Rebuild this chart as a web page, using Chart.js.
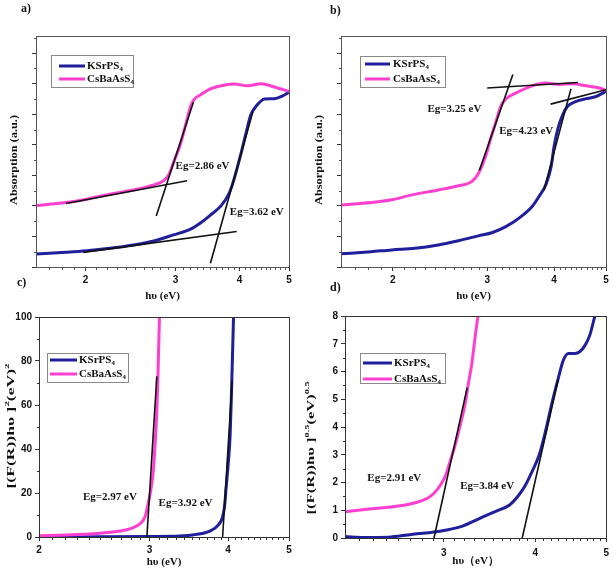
<!DOCTYPE html>
<html>
<head>
<meta charset="utf-8">
<script src="https://cdn.jsdelivr.net/npm/chart.js@4.4.1/dist/chart.umd.min.js"></script>
<style>
  body { margin: 0; background: #fff; }
  #wrap { position: relative; width: 614px; height: 571px; background: #fff; overflow: hidden; }
  #wrap canvas { position: absolute; }
  .tag { position: absolute; font: bold 12px "Liberation Serif", serif; color: #111; z-index: 5; }
</style>
</head>
<body>
<div id="wrap">
  <canvas id="chartA" width="305" height="305" style="left:0;top:0"></canvas>
  <canvas id="chartB" width="309" height="305" style="left:305px;top:0"></canvas>
  <canvas id="chartC" width="305" height="266" style="left:0;top:305px"></canvas>
  <canvas id="chartD" width="309" height="266" style="left:305px;top:305px"></canvas>
  <div class="tag" style="left:21px;top:1px">a)</div>
  <div class="tag" style="left:330px;top:3px">b)</div>
  <div class="tag" style="left:17px;top:275px">c)</div>
  <div class="tag" style="left:330px;top:280px">d)</div>
</div>
<script>
const SERIF = '"Liberation Serif", "Times New Roman", serif';
const SANS = '"Liberation Sans", Arial, sans-serif';
const BLUE = '#1f1f9c';
const PINK = '#ff3fd0';
const seriesNames = ['KSrPS₄', 'CsBaAsS₄'];

// a) absorption spectra
const aKsrEnergy = [1.59, 1.83, 2.01, 2.23, 2.48, 2.72, 2.97, 3.21, 3.36, 3.51, 3.68, 3.82, 3.90, 4.03, 4.12, 4.21, 4.31, 4.48, 4.68, 4.83, 5.0];
const aKsrAbs    = [0.42, 0.48, 0.53, 0.61, 0.72, 0.85, 1.05, 1.24, 1.45, 1.70, 2.00, 2.42, 2.85, 3.73, 4.38, 4.98, 5.26, 5.50, 5.51, 5.58, 5.72];
const aCsbEnergy = [1.59, 1.83, 2.01, 2.23, 2.48, 2.72, 2.84, 2.91, 2.97, 3.07, 3.14, 3.21, 3.26, 3.36, 3.51, 3.79, 3.90, 4.15, 4.41, 4.68, 5.0];
const aCsbAbs    = [2.01, 2.11, 2.22, 2.38, 2.52, 2.69, 2.82, 3.02, 3.40, 4.05, 4.66, 5.26, 5.48, 5.64, 5.83, 5.97, 5.99, 5.93, 6.00, 5.89, 5.75];
const aFits = [[1.83, 2.08, 3.16, 2.82], [2.75, 1.67, 3.25, 5.39], [1.98, 0.48, 3.95, 1.16], [3.51, 0.12, 4.25, 5.09]];
const aNotes = ['Eg=2.86 eV', 'Eg=3.62 eV'];

// b) absorption spectra
const bKsrEnergy = [1.60, 1.82, 1.99, 2.20, 2.43, 2.65, 2.89, 3.07, 3.25, 3.44, 3.64, 3.75, 3.86, 3.95, 4.00, 4.06, 4.15, 4.24, 4.40, 4.59, 4.79, 5.0];
const bKsrAbs    = [0.43, 0.50, 0.56, 0.61, 0.72, 0.86, 1.02, 1.13, 1.32, 1.60, 1.98, 2.31, 2.69, 3.29, 3.95, 4.49, 4.98, 5.26, 5.42, 5.51, 5.58, 5.75];
const bCsbEnergy = [1.60, 1.82, 1.99, 2.17, 2.43, 2.65, 2.81, 2.89, 2.98, 3.04, 3.11, 3.18, 3.25, 3.39, 3.64, 3.86, 4.09, 4.33, 4.59, 4.86, 5.0];
const bCsbAbs    = [2.03, 2.11, 2.20, 2.36, 2.52, 2.66, 2.80, 3.07, 3.62, 4.16, 4.71, 5.26, 5.50, 5.69, 5.93, 6.02, 5.97, 6.00, 5.93, 5.86, 5.78];
const bFits = [[3.00, 5.86, 4.43, 6.04], [2.90, 3.16, 3.35, 6.30], [3.94, 5.33, 5.0, 5.80], [3.83, 2.52, 4.30, 5.83]];
const bNotes = ['Eg=3.25 eV', 'Eg=4.23 eV'];

// c) [(F(R))hv]^2
const cKsrEnergy = [2.0, 2.5, 3.0, 3.35, 3.56, 3.74, 3.86, 3.92, 3.95, 3.97, 4.00, 4.03, 4.05, 4.08];
const cKsrVal    = [0.1, 0.1, 0.2, 0.4, 1.2, 2.7, 5.5, 9.2, 14.5, 22, 32.7, 46.4, 66, 100];
const cCsbEnergy = [2.0, 2.21, 2.50, 2.69, 2.82, 2.90, 2.95, 2.98, 3.01, 3.04, 3.06, 3.08, 3.09, 3.10, 3.11];
const cCsbVal    = [0.6, 0.9, 1.7, 2.7, 4.2, 6.2, 9.2, 14.5, 20.6, 29.7, 41.8, 57, 69, 84, 100];
const cFits = [[2.97, 0, 3.08, 73], [3.92, 0, 4.06, 71]];
const cNotes = ['Eg=2.97 eV', 'Eg=3.92 eV'];
const cYTicks = [0, 20, 40, 60, 80, 100];

// d) [(F(R))hv]^0.5
const dKsrEnergy = [2.20, 2.34, 2.52, 2.71, 2.88, 3.03, 3.19, 3.36, 3.54, 3.69, 3.80, 3.88, 3.96, 4.05, 4.13, 4.22, 4.30, 4.37, 4.44, 4.53, 4.60, 4.68, 4.75, 4.82, 4.84];
const dKsrVal    = [0.05, 0.02, 0.03, 0.13, 0.20, 0.29, 0.44, 0.71, 0.97, 1.19, 1.55, 1.91, 2.39, 2.99, 3.83, 4.91, 5.75, 6.41, 6.65, 6.65, 6.71, 6.95, 7.32, 7.95, 8.1];
const dCsbEnergy = [2.20, 2.39, 2.60, 2.76, 2.85, 2.91, 2.97, 3.02, 3.06, 3.11, 3.16, 3.21, 3.24, 3.28, 3.31, 3.34, 3.35];
const dCsbVal    = [0.95, 1.05, 1.15, 1.29, 1.43, 1.61, 1.91, 2.27, 2.75, 3.35, 4.07, 4.85, 5.51, 6.35, 7.20, 7.95, 8.1];
const dFits = [[2.91, 0, 3.23, 5.42], [3.84, 0, 4.30, 5.72]];
const dNotes = ['Eg=2.91 eV', 'Eg=3.84 eV'];
const dYTicks = [0, 1, 2, 3, 4, 5, 6, 7, 8];

const absYTicks = [0, 1, 2, 3, 4, 5, 6, 7];

function minorTicks(from, to, step, majorStep) {
  const out = [];
  for (let i = Math.round(from / step); i * step <= to + 1e-9; i++) {
    const v = +(i * step).toFixed(3);
    if (Math.abs(v / majorStep - Math.round(v / majorStep)) > 1e-6) out.push(v);
  }
  return out;
}

function pts(xs, ys) { return xs.map((x, i) => ({ x, y: ys[i] })); }

function curve(label, color, xs, ys, order) {
  return { label, data: pts(xs, ys), borderColor: color, backgroundColor: color, borderWidth: 3,
           pointRadius: 0, cubicInterpolationMode: 'monotone', order };
}

function fitLines(fits) {
  return fits.map(f => ({ label: 'fit', isFit: true, data: [{ x: f[0], y: f[1] }, { x: f[2], y: f[3] }],
    borderColor: '#111', borderWidth: 1.6, pointRadius: 0, tension: 0, order: 0 }));
}

// draws text where ₀-₉ become small lowered digits and parts flagged sup become raised
function richParts(text) {
  const parts = [];
  for (const ch of text) {
    const code = ch.charCodeAt(0);
    if (code >= 0x2080 && code <= 0x2089) parts.push([String(code - 0x2080), -1]);
    else if (parts.length && parts[parts.length - 1][1] === 0) parts[parts.length - 1][0] += ch;
    else parts.push([ch, 0]);
  }
  return parts;
}
function partsWidth(ctx, parts, size) {
  let w = 0;
  parts.forEach(([t, s]) => {
    ctx.font = 'bold ' + (s ? size * 0.62 : size) + 'px ' + SERIF;
    w += ctx.measureText(t).width;
  });
  return w;
}
function drawParts(ctx, parts, x, y, size) {
  parts.forEach(([t, s]) => {
    ctx.font = 'bold ' + (s ? size * 0.62 : size) + 'px ' + SERIF;
    const dy = s === -1 ? size * 0.25 : s === 1 ? -size * 0.38 : 0;
    ctx.fillText(t, x, y + dy);
    x += ctx.measureText(t).width;
  });
}

const deco = {
  id: 'deco',
  afterDatasetsDraw(chart, args, o) {
    const { ctx, chartArea: a, scales } = chart;
    ctx.save();
    ctx.fillStyle = '#111';
    ctx.textBaseline = 'middle';
    ctx.textAlign = 'left';
    // band-gap notes
    (o.notes || []).forEach(n => {
      ctx.font = 'bold 11px ' + SERIF;
      ctx.fillText(n.text, scales.x.getPixelForValue(n.x), scales.y.getPixelForValue(n.y));
    });
    // legend box
    const L = o.legend;
    const lx = a.left + L.x, ly = a.top + L.y;
    ctx.fillStyle = '#fff';
    ctx.fillRect(lx, ly, L.w, L.h);
    ctx.strokeStyle = '#8a8a8a';
    ctx.lineWidth = 1;
    ctx.strokeRect(Math.round(lx) + 0.5, Math.round(ly) + 0.5, L.w, L.h);
    chart.data.datasets.filter(d => !d.isFit).forEach((ds, i) => {
      const ry = ly + L.rows[i];
      ctx.strokeStyle = ds.borderColor;
      ctx.lineWidth = 3;
      ctx.beginPath();
      ctx.moveTo(lx + L.l0, ry);
      ctx.lineTo(lx + L.l1, ry);
      ctx.stroke();
      ctx.fillStyle = '#111';
      drawParts(ctx, richParts(ds.label), lx + L.t, ry, 11);
    });
    ctx.restore();
  },
  afterDraw(chart, args, o) {
    const { ctx, chartArea: a, scales } = chart;
    ctx.save();
    // frame
    ctx.strokeStyle = o.frameColor;
    ctx.lineWidth = 1;
    const l = Math.round(a.left) + 0.5, t = Math.round(a.top) + 0.5;
    const r = Math.round(a.right) + 0.5, b = Math.round(a.bottom) + 0.5;
    ctx.strokeRect(l, t, r - l, b - t);
    // minor ticks
    ctx.beginPath();
    o.minorX.forEach(v => {
      const px = Math.round(scales.x.getPixelForValue(v)) + 0.5;
      ctx.moveTo(px, b); ctx.lineTo(px, b + 2.5);
    });
    o.minorY.forEach(v => {
      const py = Math.round(scales.y.getPixelForValue(v)) + 0.5;
      ctx.moveTo(l, py); ctx.lineTo(l - 2.5, py);
    });
    ctx.stroke();
    // rotated y title with superscripts
    const Y = o.yTitle;
    ctx.fillStyle = '#111';
    ctx.textBaseline = 'middle';
    ctx.textAlign = 'left';
    const w = partsWidth(ctx, Y.parts, 11);
    const k = Y.len ? Y.len / w : 1;
    ctx.translate(Y.x, (a.top + a.bottom) / 2 + Y.shift);
    ctx.rotate(-Math.PI / 2);
    ctx.scale(k, 1);
    drawParts(ctx, Y.parts, -w / 2, 0, 11);
    ctx.restore();
  }
};

function xAxis(min, max, majors, height, tickPad, title, titlePad) {
  return {
    type: 'logarithmic', min, max,
    afterBuildTicks: s => { s.ticks = majors.map(v => ({ value: v })); },
    afterFit: s => { s.height = height; },
    grid: { drawOnChartArea: false, drawTicks: true, tickLength: 4, color: '#333' },
    border: { display: false },
    ticks: { color: '#111', padding: tickPad, autoSkip: false, maxRotation: 0,
             font: { family: SANS, size: 10, weight: 'bold' }, callback: v => String(v) },
    title: { display: true, text: title, color: '#111', padding: { top: 0, bottom: titlePad },
             font: { family: SERIF, size: 11, weight: 'bold' } }
  };
}

function yAxis(max, majors, width, showLabels) {
  return {
    type: 'linear', min: 0, max,
    afterBuildTicks: s => { s.ticks = majors.map(v => ({ value: v })); },
    afterFit: s => { s.width = width; },
    grid: { drawOnChartArea: false, drawTicks: true, tickLength: 4, color: '#333' },
    border: { display: false },
    ticks: { display: showLabels, color: '#111', padding: 3,
             font: { family: SANS, size: 10, weight: 'bold' } }
  };
}

function makePanel(id, p) {
  return new Chart(document.getElementById(id), {
    type: 'line',
    data: {
      datasets: [
        curve(seriesNames[0], BLUE, p.ksrX, p.ksrY, 2),
        curve(seriesNames[1], PINK, p.csbX, p.csbY, 1),
        ...fitLines(p.fits)
      ]
    },
    options: {
      responsive: false,
      animation: false,
      devicePixelRatio: 1,
      events: [],
      layout: { padding: p.padding, autoPadding: false },
      scales: { x: p.x, y: p.y },
      plugins: {
        legend: { display: false },
        tooltip: { enabled: false },
        deco: p.deco
      }
    },
    plugins: [deco]
  });
}

makePanel('chartA', {
  ksrX: aKsrEnergy, ksrY: aKsrAbs, csbX: aCsbEnergy, csbY: aCsbAbs, fits: aFits,
  padding: { top: 36, right: 16, bottom: 0, left: 0 },
  x: xAxis(1.6, 5, [2, 3, 4, 5], 38, 3, 'hυ (eV)', 2),
  y: yAxis(7.56, absYTicks, 36, false),
  deco: {
    frameColor: '#555',
    minorX: minorTicks(1.7, 4.9, 0.1, 1), minorY: minorTicks(0.5, 7.5, 0.5, 1),
    yTitle: { parts: [['Absorption (a.u.)', 0]], x: 14, shift: 8.5, len: 90 },
    legend: { x: 15, y: 19, w: 82, h: 32, rows: [11, 24], l0: 8, l1: 34, t: 36 },
    notes: [{ text: aNotes[0], x: 3.0, y: 3.31 }, { text: aNotes[1], x: 3.83, y: 1.80 }]
  }
});

makePanel('chartB', {
  ksrX: bKsrEnergy, ksrY: bKsrAbs, csbX: bCsbEnergy, csbY: bCsbAbs, fits: bFits,
  padding: { top: 36, right: 8, bottom: 0, left: 0 },
  x: xAxis(1.6, 5, [2, 3, 4, 5], 38, 3, 'hυ (eV)', 2),
  y: yAxis(7.56, absYTicks, 36, false),
  deco: {
    frameColor: '#555',
    minorX: minorTicks(1.7, 4.9, 0.1, 1), minorY: minorTicks(0.5, 7.5, 0.5, 1),
    yTitle: { parts: [['Absorption (a.u.)', 0]], x: 14, shift: 8.5, len: 90 },
    legend: { x: 19, y: 20, w: 85, h: 31, rows: [8, 23], l0: 5, l1: 30, t: 33 },
    notes: [{ text: bNotes[0], x: 2.32, y: 5.15 }, { text: bNotes[1], x: 3.16, y: 4.46 }]
  }
});

makePanel('chartC', {
  ksrX: cKsrEnergy, ksrY: cKsrVal, csbX: cCsbEnergy, csbY: cCsbVal, fits: cFits,
  padding: { top: 12, right: 16, bottom: 0, left: 0 },
  x: xAxis(2, 5, [2, 3, 4, 5], 34, 3, 'hυ (eV)', 2.4),
  y: yAxis(100, cYTicks, 39, true),
  deco: {
    frameColor: '#333',
    minorX: minorTicks(2.1, 4.9, 0.1, 1), minorY: minorTicks(10, 90, 10, 20),
    yTitle: { parts: [['[(F(R))hυ ]', 0], ['2', 1], ['(eV)', 0], ['2', 1]], x: 11, shift: -1, len: 125 },
    legend: { x: 8, y: 36, w: 81, h: 29, rows: [7, 21], l0: 3, l1: 30, t: 32 },
    notes: [{ text: cNotes[0], x: 2.35, y: 18.2 }, { text: cNotes[1], x: 3.10, y: 15.5 }]
  }
});

makePanel('chartD', {
  ksrX: dKsrEnergy, ksrY: dKsrVal, csbX: dCsbEnergy, csbY: dCsbVal, fits: dFits,
  padding: { top: 11, right: 4, bottom: 0, left: 0 },
  x: xAxis(2.2, 5, [3, 4, 5], 33, 5, 'hυ（eV）', 3.4),
  y: yAxis(8, dYTicks, 40, true),
  deco: {
    frameColor: '#333',
    minorX: minorTicks(2.3, 4.9, 0.1, 1), minorY: minorTicks(0.5, 7.5, 0.5, 1),
    yTitle: { parts: [['[(F(R))hυ ]', 0], ['0.5', 1], ['(eV)', 0], ['0.5', 1]], x: 6, shift: 21, len: 133 },
    legend: { x: 15, y: 37, w: 85, h: 30, rows: [10, 26], l0: 3, l1: 32, t: 34 },
    notes: [{ text: dNotes[0], x: 2.36, y: 2.16 }, { text: dNotes[1], x: 3.16, y: 1.87 }]
  }
});
</script>
</body>
</html>
